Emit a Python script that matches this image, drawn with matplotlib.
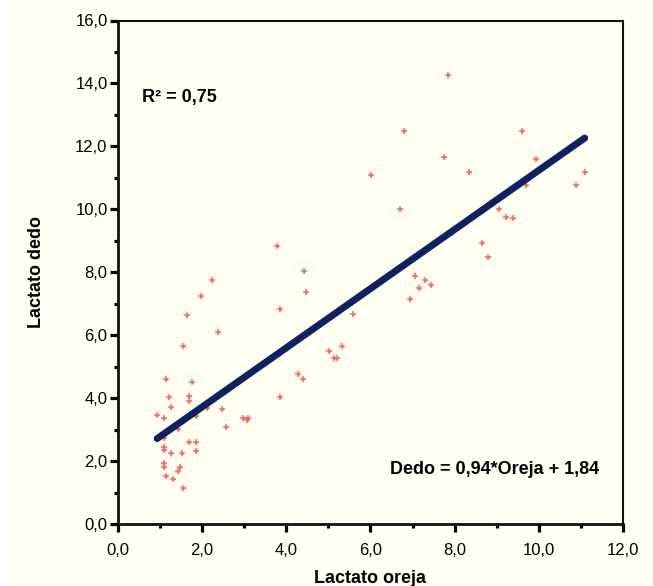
import matplotlib
matplotlib.use("Agg")
import matplotlib.pyplot as plt
from matplotlib.patches import Rectangle
from matplotlib.ticker import MultipleLocator, FuncFormatter
import numpy as np

# ==========================
# 데이터
# ==========================
oreja = [
    2.23, 1.97, 1.64, 2.38, 1.55, 1.13, 1.77, 1.22, 1.68, 1.68,
    1.25, 0.93, 1.10, 2.47, 2.12, 1.85, 1.43, 2.56, 2.96, 3.06,
    3.10, 3.85, 4.27, 4.39, 3.85, 4.43, 4.47, 3.77, 1.10, 1.10,
    1.10, 1.26, 1.51, 1.69, 1.86, 1.86, 1.10, 1.10, 1.47, 1.43,
    1.13, 1.31, 1.55,
    7.85, 6.80, 9.59, 7.75, 9.93, 6.01, 8.34, 11.09, 10.88, 9.69,
    6.69, 9.05, 9.23, 9.39, 7.94, 8.64, 8.80, 7.06, 7.30, 7.15,
    7.43, 6.94,
    5.59, 4.60, 5.01, 5.32, 5.14, 5.20,
]
dedo = [
    7.75, 7.25, 6.64, 6.11, 5.66, 4.61, 4.52, 4.05, 4.08, 3.91,
    3.71, 3.46, 3.38, 3.64, 3.68, 3.44, 3.02, 3.09, 3.38, 3.30,
    3.38, 4.04, 4.77, 4.60, 6.82, 8.05, 7.36, 8.85, 2.74, 2.46,
    2.35, 2.26, 2.26, 2.60, 2.60, 2.32, 1.93, 1.80, 1.82, 1.69,
    1.53, 1.42, 1.13,
    14.28, 12.50, 12.50, 11.67, 11.60, 11.10, 11.18, 11.18, 10.77, 10.77,
    10.00, 10.00, 9.77, 9.71, 9.26, 8.94, 8.48, 7.88, 7.75, 7.50,
    7.59, 7.14,
    6.66, 6.20, 5.50, 5.66, 5.27, 5.27,
]

SLOPE = 0.94
INTERCEPT = 1.84

CREAM = "#fffff2"
NAVY = "#0d2260"
RED = "#ff5c5c"

plt.rcParams["font.family"] = ["Liberation Sans", "DejaVu Sans"]

fig = plt.figure(figsize=(6.53, 5.86), dpi=100, facecolor=CREAM)
fig.patches.append(Rectangle((0, 0), 13 / 653, 1, transform=fig.transFigure,
                             facecolor="white", edgecolor="none", zorder=-1))
ax = fig.add_axes([118 / 653, 62 / 586, 505 / 653, 503.5 / 586])
ax.set_facecolor(CREAM)

# 산점도 (+ 마커와 가운데 작은 점)
ax.plot(oreja, dedo, linestyle="none", marker="+", markersize=4.5,
        markeredgewidth=1.2, color=RED, alpha=0.85, zorder=2)
ax.plot(oreja, dedo, linestyle="none", marker="o", markersize=2.2,
        markeredgewidth=0, color=RED, alpha=0.7, zorder=2)

# 회귀선
xl = np.linspace(min(oreja), max(oreja), 200)
ax.plot(xl, SLOPE * xl + INTERCEPT, color=NAVY, linewidth=5,
        solid_capstyle="round", zorder=3)

ax.set_xlim(0, 12)
ax.set_ylim(0, 16)
ax.xaxis.set_major_locator(MultipleLocator(2))
ax.xaxis.set_minor_locator(MultipleLocator(1))
ax.yaxis.set_major_locator(MultipleLocator(2))
ax.yaxis.set_minor_locator(MultipleLocator(1))
fmt = FuncFormatter(lambda v, p: f"{v:.1f}".replace(".", ","))
ax.xaxis.set_major_formatter(fmt)
ax.yaxis.set_major_formatter(fmt)

for s in ax.spines.values():
    s.set_linewidth(1.5)
    s.set_color("#111111")
ax.spines["left"].set_linewidth(2)
ax.spines["bottom"].set_linewidth(2)

ax.tick_params(which="major", direction="out", length=6, width=2.3,
               labelsize=12, color="black")
ax.tick_params(which="minor", direction="out", length=3, width=2.3, color="black")
ax.tick_params(axis="x", which="major", pad=8)
ax.tick_params(axis="y", which="major", pad=1.5)

ax.set_xlabel("Lactato oreja", fontsize=13, fontweight="bold", labelpad=8)
ax.set_ylabel("Lactato dedo", fontsize=13, fontweight="bold", labelpad=22)

ax.text(0.047, 0.848, "R² = 0,75", transform=ax.transAxes, fontsize=13,
        fontweight="bold", va="center", ha="left")
ax.text(0.952, 0.108, "Dedo = 0,94*Oreja + 1,84", transform=ax.transAxes,
        fontsize=13, fontweight="bold", va="center", ha="right")

fig.savefig("out.png", dpi=100, facecolor=fig.get_facecolor())
